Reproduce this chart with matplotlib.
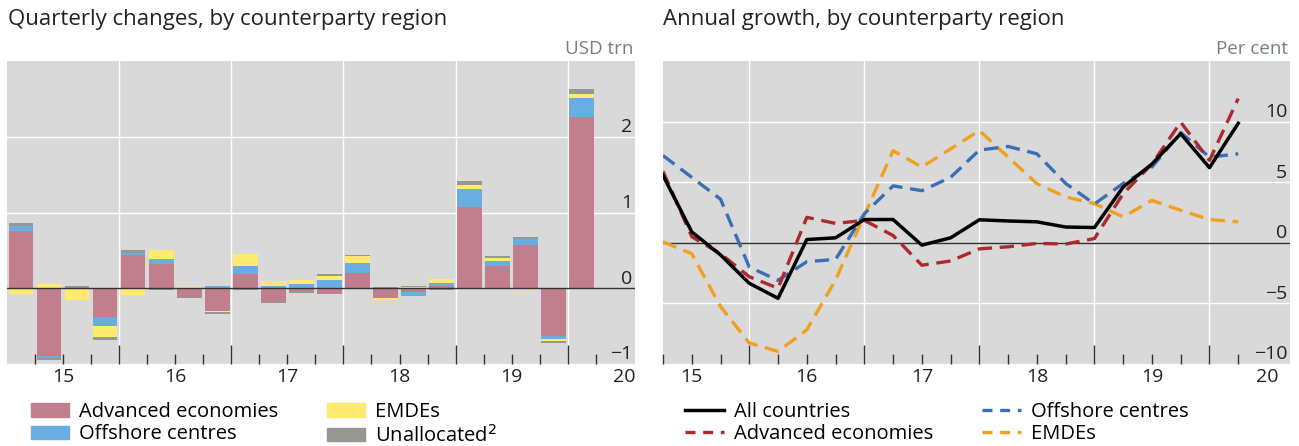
import numpy as np
import matplotlib
matplotlib.use("Agg")
import matplotlib.pyplot as plt
from matplotlib.patches import Patch
from matplotlib.lines import Line2D

# -------------------------------
# DATA
# -------------------------------
quarters = ["2015Q1", "2015Q2", "2015Q3", "2015Q4", "2016Q1", "2016Q2", "2016Q3",
            "2016Q4", "2017Q1", "2017Q2", "2017Q3", "2017Q4", "2018Q1", "2018Q2",
            "2018Q3", "2018Q4", "2019Q1", "2019Q2", "2019Q3", "2019Q4", "2020Q1"]
year_labels = ["15", "16", "17", "18", "19", "20"]

# quarterly changes, USD trn
advanced = [0.75, -0.90, 0.0, -0.38, 0.435, 0.32, -0.12, -0.30, 0.19, -0.18, -0.03,
            -0.07, 0.20, -0.13, -0.05, 0.03, 1.07, 0.30, 0.575, -0.63, 2.255]
offshore = [0.07, -0.02, 0.0, -0.12, 0.035, 0.06, 0.0, 0.035, 0.10, 0.03, 0.05,
            0.115, 0.135, 0.0, -0.05, 0.045, 0.24, 0.06, 0.07, -0.045, 0.26]
emdes = [-0.07, 0.05, -0.16, -0.15, -0.09, 0.12, 0.01, -0.02, 0.16, 0.065, 0.065,
         0.05, 0.09, -0.025, 0.015, 0.05, 0.05, 0.04, -0.02, -0.02, 0.045]
unallocated = [0.035, -0.025, 0.03, -0.035, 0.03, -0.02, -0.01, -0.025, -0.025, -0.02,
               -0.03, 0.02, 0.02, 0.015, 0.015, -0.025, 0.05, 0.02, 0.025, -0.025, 0.075]

# annual growth, per cent
g_all = [5.56, 0.9, -1.0, -3.34, -4.58, 0.27, 0.41, 1.92, 1.92, -0.19, 0.41,
         1.9, 1.8, 1.73, 1.3, 1.26, 4.6, 6.5, 9.0, 6.2, 9.86]
g_adv = [5.9, 0.5, -0.9, -2.8, -3.75, 2.1, 1.6, 1.85, 0.6, -1.85, -1.5,
         -0.5, -0.33, -0.05, -0.1, 0.35, 4.05, 6.5, 9.95, 6.8, 11.9]
g_off = [7.2, 5.4, 3.6, -2.0, -3.1, -1.56, -1.37, 2.4, 4.7, 4.3, 5.4,
         7.65, 7.95, 7.34, 4.9, 3.2, 4.9, 6.25, 9.1, 7.07, 7.34]
g_emde = [0.08, -0.9, -5.26, -8.27, -8.96, -7.18, -3.07, 2.27, 7.6, 6.25, 7.75,
          9.26, 7.07, 4.88, 3.78, 3.23, 2.14, 3.5, 2.68, 1.92, 1.73]

# -------------------------------
# STYLE
# -------------------------------
plt.rcParams['font.family'] = ['Open Sans', 'DejaVu Sans']
BG = "#d9d9d9"
TXT = "#222222"
c_adv, c_off, c_emde, c_un = "#c17f8d", "#6aade0", "#ffe96e", "#949890"
c_red, c_blue, c_orange = "#ac2a2e", "#3a6fb5", "#f0a020"
DASH = (4.3, 2.3)
LW = 2.4

fig = plt.figure(figsize=(12.99, 4.46), dpi=100)
W, H = 1299, 446


def px_axes(x0, x1, y0, y1):
    return fig.add_axes([x0 / W, 1 - y1 / H, (x1 - x0) / W, (y1 - y0) / H])


def style_axes(ax, yticks, xlim, label_pos):
    ax.set_facecolor(BG)
    for s in ax.spines.values():
        s.set_visible(False)
    ax.set_xlim(*xlim)
    ax.set_xticks(np.arange(2016, 2021), labels=[])
    ax.set_xticks(np.arange(2015.25, 2020.3, 0.25), minor=True)
    ax.tick_params(axis='x', which='major', direction='in', length=14, width=1, color="#333333")
    ax.tick_params(axis='x', which='minor', direction='in', length=7, width=1, color="#333333")
    ax.set_yticks([])
    for yr in range(2016, 2021):
        ax.axvline(yr, color="white", lw=1, zorder=0)
    for v in yticks:
        if v != 0:
            ax.axhline(v, color="white", lw=1, zorder=0)
    ax.axhline(0, color="#333333", lw=1, zorder=3)
    for v in yticks:
        ax.annotate("\u2212" + str(abs(v)) if v < 0 else str(v),
                    xy=(1, v), xycoords=('axes fraction', 'data'),
                    xytext=(-2, 0.5), textcoords='offset points',
                    ha='right', va='bottom', fontsize=14, color=TXT)
    for lab, xc in zip(year_labels, label_pos):
        ax.annotate(lab, xy=(xc, 0), xycoords=('data', 'axes fraction'),
                    xytext=(0, -3), textcoords='offset points',
                    ha='center', va='top', fontsize=14, color=TXT)


# -------------------------------
# LEFT PANEL: stacked bars
# -------------------------------
ax1 = px_axes(7, 635, 61, 364)
ax1.set_ylim(-1, 3)
xb = 2015.125 + 0.25 * np.arange(len(quarters))
pos = np.zeros(len(quarters))
neg = np.zeros(len(quarters))
for vals, col in [(advanced, c_adv), (offshore, c_off), (emdes, c_emde), (unallocated, c_un)]:
    v = np.array(vals)
    bottom = np.where(v >= 0, pos, neg)
    ax1.bar(xb, v, bottom=bottom, width=0.22, color=col, zorder=2, linewidth=0)
    pos = pos + np.where(v > 0, v, 0)
    neg = neg + np.where(v < 0, v, 0)
style_axes(ax1, [-1, 0, 1, 2], (2015.0, 2020.6), np.arange(2015.5, 2021, 1.0))

# -------------------------------
# RIGHT PANEL: lines
# -------------------------------
ax2 = px_axes(663, 1290, 61, 364)
ax2.set_ylim(-10, 15)
xl = 2015.25 + 0.25 * np.arange(len(quarters))
ax2.plot(xl, g_emde, color=c_orange, lw=LW, dashes=DASH, zorder=4)
ax2.plot(xl, g_off, color=c_blue, lw=LW, dashes=DASH, zorder=4)
ax2.plot(xl, g_adv, color=c_red, lw=LW, dashes=DASH, zorder=5)
ax2.plot(xl, g_all, color="black", lw=2.5, zorder=6)
style_axes(ax2, [-10, -5, 0, 5, 10], (2015.25, 2020.7), np.arange(2015.5, 2021, 1.0))

# -------------------------------
# TITLES / UNITS
# -------------------------------
fig.text(8 / W, 1 - 20 / H, "Quarterly changes, by counterparty region",
         fontsize=16, color=TXT, va='center', ha='left')
fig.text(663 / W, 1 - 20 / H, "Annual growth, by counterparty region",
         fontsize=16, color=TXT, va='center', ha='left')
fig.text(633 / W, 1 - 49 / H, "USD trn", fontsize=13.5, color="#767e8a", va='center', ha='right')
fig.text(1288 / W, 1 - 49 / H, "Per cent", fontsize=13.5, color="#767e8a", va='center', ha='right')

# -------------------------------
# LEGENDS
# -------------------------------
h1 = [Patch(color=c_adv), Patch(color=c_off), Patch(color=c_emde), Patch(color=c_un)]
l1 = ["Advanced economies", "Offshore centres", "EMDEs", "Unallocated$^2$"]
fig.legend(h1, l1, ncol=2, loc='upper left', bbox_to_anchor=(31 / W, 1 - 402 / H),
           frameon=False, fontsize=14.5, handlelength=1.9, handleheight=0.65,
           handletextpad=0.5, columnspacing=2.4, labelspacing=0.12,
           borderpad=0, borderaxespad=0)

h2 = [Line2D([], [], color="black", lw=2.5),
      Line2D([], [], color=c_red, lw=LW, dashes=(3.0, 2.3)),
      Line2D([], [], color=c_blue, lw=LW, dashes=(3.0, 2.3)),
      Line2D([], [], color=c_orange, lw=LW, dashes=(3.0, 2.3))]
l2 = ["All countries", "Advanced economies", "Offshore centres", "EMDEs"]
fig.legend(h2, l2, ncol=2, loc='upper left', bbox_to_anchor=(685 / W, 1 - 402 / H),
           frameon=False, fontsize=14.5, handlelength=1.95,
           handletextpad=0.5, columnspacing=2.4, labelspacing=0.12,
           borderpad=0, borderaxespad=0)

fig.savefig("out.png", dpi=100)
